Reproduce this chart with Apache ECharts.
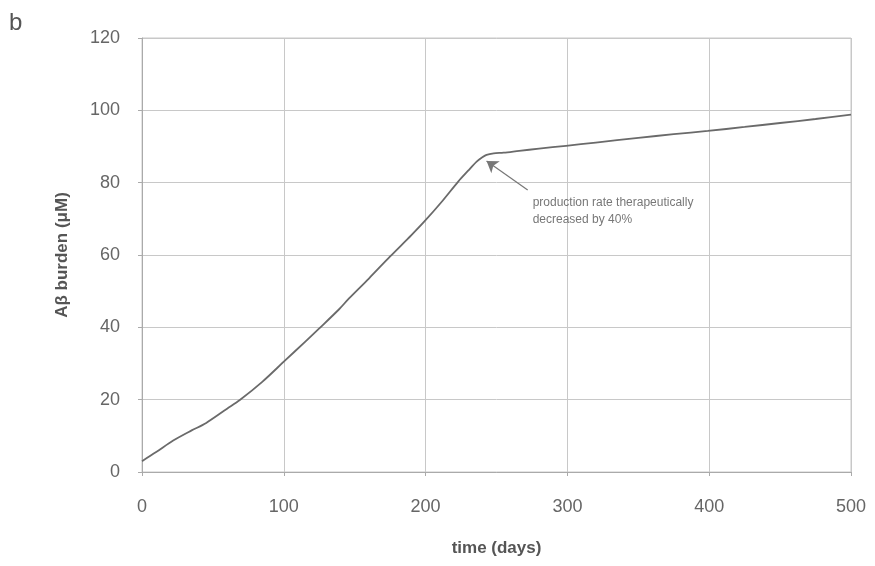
<!DOCTYPE html>
<html><head><meta charset="utf-8">
<script src="https://cdn.jsdelivr.net/npm/echarts@6/dist/echarts.min.js"></script>
<style>html,body{margin:0;padding:0;background:#fff}#c{width:875px;height:566px}</style>
</head><body><div id="c"></div>
<script>
var days = [0, 10, 22, 35, 45, 60, 69, 85, 100, 115, 125, 139, 146, 160, 175, 190, 199, 212, 223, 230, 236, 240, 243, 248, 255, 266, 280, 299, 320, 350, 375, 399, 425, 450, 475, 500];
var burden = [3, 5.5, 8.7, 11.5, 13.5, 17.5, 19.9, 25, 30.5, 36, 39.7, 45, 48, 53.5, 59.6, 65.5, 69.2, 75, 80.3, 83.3, 85.8, 87, 87.7, 88.1, 88.3, 88.8, 89.4, 90.2, 91.1, 92.4, 93.4, 94.3, 95.4, 96.5, 97.6, 98.8];
var xTicks = [0, 100, 200, 300, 400, 500];
var yTicks = [0, 20, 40, 60, 80, 100, 120];
var arrowTail = [272, 78];
var arrowHead = [243, 86];
var noteAnchor = [275.5, 72.2];
var noteText = 'production rate therapeutically\ndecreased by 40%';

var font = 'Liberation Sans, Arial, sans-serif';
var chart = echarts.init(document.getElementById('c'), null, {renderer: 'canvas'});
chart.setOption({
  animation: false,
  backgroundColor: '#fff',
  grid: {left: 142, right: 24, top: 38, bottom: 94, show: true, borderColor: '#c8c8c8', borderWidth: 1},
  graphic: [{type: 'text', left: 9, top: 11, style: {text: 'b', fontSize: 24, fill: '#555', fontFamily: font}}],
  xAxis: {
    type: 'value', min: 0, max: 500, interval: 100,
    name: 'time (days)', nameLocation: 'middle', nameGap: 68,
    nameTextStyle: {fontSize: 17, color: '#555', fontWeight: 'bold', fontFamily: font},
    axisLine: {show: true, lineStyle: {color: '#aaa'}},
    axisTick: {show: true, length: 4, lineStyle: {color: '#aaa'}},
    axisLabel: {margin: 26, fontSize: 18, color: '#666', fontFamily: font,
      formatter: function (v) { return xTicks.indexOf(v) >= 0 ? String(v) : ''; }},
    splitLine: {show: true, lineStyle: {color: '#c8c8c8', width: 1}}
  },
  yAxis: {
    type: 'value', min: 0, max: 120, interval: 20,
    name: 'A\u03b2 burden (\u03bcM)', nameLocation: 'middle', nameGap: 71,
    nameTextStyle: {fontSize: 17, color: '#555', fontWeight: 'bold', fontFamily: font},
    axisLine: {show: true, lineStyle: {color: '#aaa'}},
    axisTick: {show: true, length: 4, lineStyle: {color: '#aaa'}},
    axisLabel: {margin: 22, fontSize: 18, color: '#666', fontFamily: font,
      formatter: function (v) { return yTicks.indexOf(v) >= 0 ? String(v) : ''; }},
    splitLine: {show: true, lineStyle: {color: '#c8c8c8', width: 1}}
  },
  series: [{
    type: 'line',
    data: days.map(function (d, i) { return [d, burden[i]]; }),
    showSymbol: false, smooth: 0.3,
    lineStyle: {color: '#6a6a6a', width: 1.8},
    markLine: {
      silent: true, symbol: ['none', 'arrow'], symbolSize: 11,
      label: {show: false},
      lineStyle: {color: '#777', width: 1.2, type: 'solid'},
      data: [[{coord: arrowTail}, {coord: arrowHead}]]
    },
    markPoint: {
      silent: true, symbol: 'circle', symbolSize: 0,
      data: [{coord: noteAnchor}],
      label: {show: true, position: 'right', distance: 0, formatter: noteText,
        fontSize: 12, lineHeight: 17, color: '#777', fontFamily: font, align: 'left'}
    }
  }]
});
</script></body></html>
